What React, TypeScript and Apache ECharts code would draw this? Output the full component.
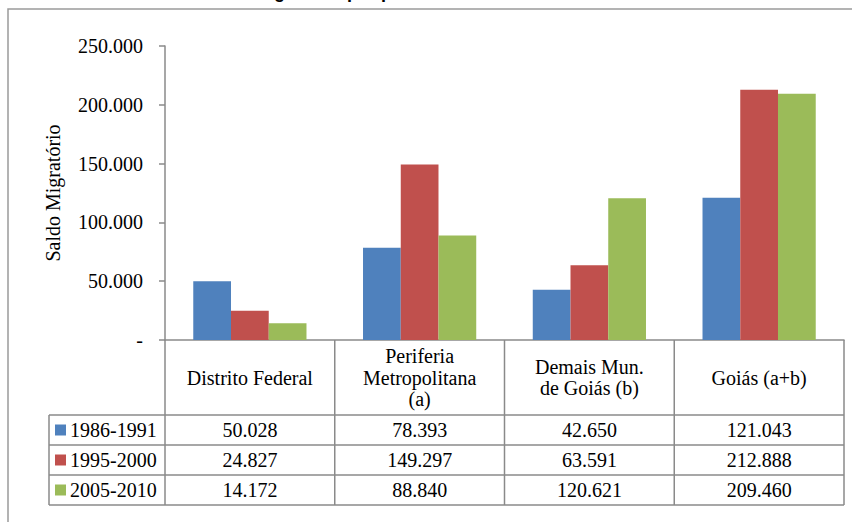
import React, { useEffect, useRef } from "react";
import * as echarts from "echarts";

const categories = [
  "Distrito Federal",
  "Periferia\nMetropolitana\n(a)",
  "Demais Mun.\nde Goiás (b)",
  "Goiás (a+b)",
];
const periods = ["1986-1991", "1995-2000", "2005-2010"];
const values1986 = [50028, 78393, 42650, 121043];
const values1995 = [24827, 149297, 63591, 212888];
const values2005 = [14172, 88840, 120621, 209460];
const seriesValues = [values1986, values1995, values2005];
const colors = ["#4F81BD", "#C0504D", "#9BBB59"];
const yMax = 250000;
const yInterval = 50000;
const axisTitle = "Saldo Migratório";
const chartTitle = "Saldo Migratório por período: Distrito Federal e Goiás";

const SERIF = "Liberation Serif";
const GRID_LEFT = 165;
const GRID_RIGHT = 8;
const GRID_TOP = 46;
const GRID_BOTTOM_Y = 340;
const LINE = "#8a8a8a";

function fmt(v: number): string {
  if (v === 0) return "-";
  const s = Math.round(v).toString();
  return s.replace(/\B(?=(\d{3})+(?!\d))/g, ".");
}

export default function App() {
  const ref = useRef<HTMLDivElement>(null);
  useEffect(() => {
    if (!ref.current) return;
    const chart = echarts.init(ref.current, undefined, { renderer: "svg" });
    chart.setOption({
      animation: false,
      backgroundColor: "#ffffff",
      textStyle: { fontFamily: SERIF },
      grid: {
        left: GRID_LEFT,
        right: GRID_RIGHT,
        top: GRID_TOP,
        bottom: 522 - GRID_BOTTOM_Y,
        containLabel: false,
      },
      xAxis: {
        type: "category",
        data: categories,
        axisLine: { show: true, lineStyle: { color: LINE, width: 1.5 } },
        axisTick: { show: false },
        axisLabel: { show: false },
      },
      yAxis: {
        type: "value",
        min: 0,
        max: yMax,
        interval: yInterval,
        splitLine: { show: false },
        axisLine: { show: true, lineStyle: { color: LINE, width: 1.5 } },
        axisTick: { show: true, length: 6, lineStyle: { color: LINE, width: 1.5 } },
        axisLabel: {
          formatter: (v: number) => fmt(v),
          fontFamily: SERIF,
          fontSize: 20,
          color: "#000",
          margin: 22,
        },
      },
      series: periods.map((p, i) => ({
        name: p,
        type: "bar",
        data: seriesValues[i],
        barGap: "0%",
        barCategoryGap: "33.3%",
        itemStyle: { color: colors[i] },
      })),
    });

    const graphics: any[] = [];
    graphics.push({
      type: "rect",
      shape: { x: 8, y: 9, width: 1000, height: 1000 },
      style: { fill: "none", stroke: "#9a9a9a", lineWidth: 1.5 },
      silent: true,
    });
    graphics.push({
      type: "text",
      x: 430,
      y: 1,
      style: {
        text: chartTitle,
        fontFamily: "Liberation Sans",
        fontWeight: "bold",
        fontSize: 18,
        fill: "#000",
        align: "center",
        verticalAlign: "bottom",
      },
    });
    graphics.push({
      type: "text",
      x: 53,
      y: (GRID_TOP + GRID_BOTTOM_Y) / 2,
      rotation: Math.PI / 2,
      style: {
        text: axisTitle,
        fontFamily: SERIF,
        fontSize: 20,
        fill: "#000",
        align: "center",
        verticalAlign: "middle",
      },
    });

    const centers = categories.map((_, i) => chart.convertToPixel({ xAxisIndex: 0 }, i) as number);
    const colW = centers.length > 1 ? centers[1] - centers[0] : 170;
    const tableLeft = centers[0] - colW / 2;
    const tableRight = centers[centers.length - 1] + colW / 2;
    const headerTop = GRID_BOTTOM_Y;
    const headerBottom = 415;
    const rowH = 30;
    const rowTops = periods.map((_, i) => headerBottom + i * rowH);
    const tableBottom = headerBottom + periods.length * rowH;
    const legendLeft = 49;

    const hline = (x1: number, x2: number, y: number) => ({
      type: "line",
      shape: { x1, y1: y, x2, y2: y },
      style: { stroke: LINE, lineWidth: 1.5 },
      silent: true,
    });
    const vline = (x: number, y1: number, y2: number) => ({
      type: "line",
      shape: { x1: x, y1, x2: x, y2 },
      style: { stroke: LINE, lineWidth: 1.5 },
      silent: true,
    });

    graphics.push(hline(legendLeft, tableRight, headerBottom));
    rowTops.forEach((t) => graphics.push(hline(legendLeft, tableRight, t + rowH)));
    graphics.push(vline(legendLeft, headerBottom, tableBottom));
    graphics.push(vline(tableLeft, headerTop, tableBottom));
    centers.forEach((c) => graphics.push(vline(c + colW / 2, headerTop, tableBottom)));

    centers.forEach((c, i) => {
      graphics.push({
        type: "text",
        x: c,
        y: (headerTop + headerBottom) / 2,
        style: {
          text: categories[i],
          fontFamily: SERIF,
          fontSize: 20,
          lineHeight: 21.5,
          fill: "#000",
          align: "center",
          verticalAlign: "middle",
        },
      });
    });

    periods.forEach((p, r) => {
      const cy = rowTops[r] + rowH / 2;
      graphics.push({
        type: "rect",
        shape: { x: 55, y: cy - 5.5, width: 11, height: 11 },
        style: { fill: colors[r] },
      });
      graphics.push({
        type: "text",
        x: 70,
        y: cy,
        style: {
          text: p,
          fontFamily: SERIF,
          fontSize: 20,
          fill: "#000",
          align: "left",
          verticalAlign: "middle",
        },
      });
      seriesValues[r].forEach((v, i) => {
        graphics.push({
          type: "text",
          x: centers[i],
          y: cy,
          style: {
            text: fmt(v),
            fontFamily: SERIF,
            fontSize: 20,
            fill: "#000",
            align: "center",
            verticalAlign: "middle",
          },
        });
      });
    });

    chart.setOption({ graphic: graphics });
    return () => chart.dispose();
  }, []);

  return (
    <div
      ref={ref}
      style={{ position: "absolute", left: 0, top: 0, width: 852, height: 522 }}
    />
  );
}
